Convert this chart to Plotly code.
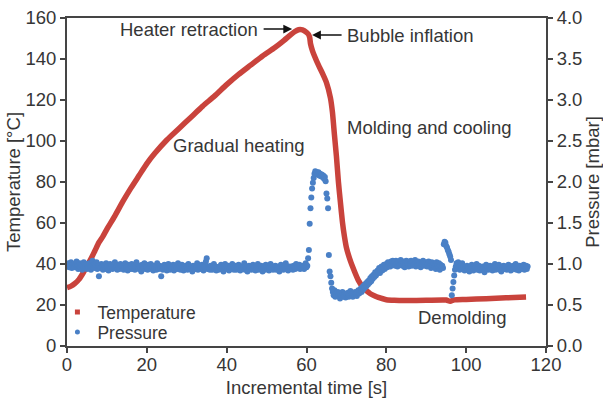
import numpy as np
import plotly.graph_objects as go

# ---------------------------------------------------------------------------
# Process record: film temperature (left axis) and chamber pressure (right axis)
# ---------------------------------------------------------------------------

# Temperature profile, sampled at the points where the curve changes shape
TEMP_TIME_S = [0, 1, 2, 3, 4, 5, 6, 7, 8, 9, 10, 12, 14, 16, 18, 20, 22, 25, 28,
               31, 34, 37, 40, 43, 46, 49, 52, 54, 56, 57, 58, 59, 60, 60.5,
               60.8, 61, 61.5, 62, 63, 64, 65, 66, 66.5, 67, 67.5, 68, 68.5, 69,
               69.5, 70, 71, 72, 73, 74, 75, 76, 77, 78, 80, 82, 85, 90, 95, 96,
               97, 100, 105, 110, 115]
TEMP_C = [28.5, 29.2, 30.5, 32.5, 35.5, 39.0, 42.5, 46.5, 50.5, 53.5, 57.0,
          63.5, 70.5, 77.0, 83.0, 89.0, 94.0, 100.5, 106.0, 111.5, 117.0, 122.0,
          127.5, 132.5, 137.0, 141.5, 145.5, 148.5, 151.8, 153.3, 154.3, 154.2,
          153.0, 152.0, 150.5, 147.5, 144.0, 141.5, 137.0, 133.0, 128.5, 121.0,
          114.0, 103.0, 92.5, 80.0, 70.0, 60.5, 53.5, 48.0, 41.5, 36.5, 32.0,
          29.0, 27.0, 25.5, 24.5, 23.7, 22.6, 22.3, 22.2, 22.3, 22.4, 21.8,
          22.5, 22.7, 23.1, 23.5, 23.9]

# Pressure logger output, one reading every SAMPLE_INTERVAL_S seconds from t = 0
SAMPLE_INTERVAL_S = 0.2
PRESSURE_MBAR = [
    # 0 - 59.8 s : heating, chamber at rest
    0.99, 0.97, 1.01, 0.96, 0.98, 1.02, 0.95, 0.99, 0.97, 1.00,
    0.96, 0.99, 1.03, 0.97, 0.94, 0.98, 1.01, 0.96, 0.99, 0.93,
    0.98, 1.02, 0.95, 0.97, 1.00, 0.94, 0.99, 0.96, 1.01, 0.97,
    0.93, 0.98, 1.04, 0.96, 0.99, 0.95, 0.97, 1.02, 0.94, 0.98,
    0.85, 0.97, 0.95, 1.00, 0.96, 0.93, 0.99, 0.97, 0.94, 1.01,
    0.96, 0.98, 0.92, 0.97, 1.00, 0.95, 0.98, 0.94, 0.99, 0.96,
    1.02, 0.95, 0.97, 0.93, 0.99, 0.96, 0.94, 1.00, 0.97, 0.95,
    0.98, 0.93, 0.96, 1.01, 0.95, 0.97, 0.92, 0.99, 0.96, 0.94,
    0.97, 1.00, 0.94, 0.96, 0.98, 0.93, 0.97, 1.02, 0.95, 0.96,
    0.94, 0.98, 0.96, 0.91, 0.99, 0.97, 0.95, 1.01, 0.94, 0.97,
    0.96, 0.93, 0.99, 0.95, 0.97, 1.00, 0.94, 0.96, 0.92, 0.98,
    0.95, 0.97, 0.93, 1.01, 0.96, 0.94, 0.98, 0.95, 0.85, 0.97,
    0.93, 0.96, 0.99, 0.94, 0.97, 0.92, 0.96, 1.00, 0.95, 0.93,
    0.97, 0.94, 0.96, 0.99, 0.92, 0.95, 0.98, 0.94, 0.96, 1.01,
    0.94, 0.97, 0.93, 0.96, 0.99, 0.95, 0.92, 0.97, 0.95, 0.98,
    0.96, 0.93, 1.00, 0.95, 0.97, 0.94, 0.96, 0.91, 0.98, 0.95,
    0.97, 0.94, 0.96, 1.01, 0.93, 0.95, 0.98, 0.96, 0.94, 0.99,
    0.95, 0.92, 0.97, 0.96, 1.03, 1.07, 0.94, 0.97, 0.95, 0.93,
    0.98, 0.95, 0.93, 0.96, 1.00, 0.94, 0.97, 0.92, 0.96, 0.95,
    0.93, 0.97, 0.95, 0.99, 0.94, 0.96, 0.91, 0.97, 1.00, 0.95,
    0.96, 0.94, 0.98, 0.92, 0.95, 0.97, 0.94, 1.00, 0.96, 0.93,
    0.95, 0.98, 0.93, 0.96, 0.94, 0.99, 0.95, 0.92, 0.97, 0.95,
    0.94, 0.96, 1.01, 0.93, 0.97, 0.95, 0.91, 0.96, 0.98, 0.94,
    0.97, 0.93, 0.95, 0.99, 0.94, 0.96, 0.92, 0.97, 0.95, 1.00,
    0.93, 0.96, 0.94, 0.98, 0.95, 0.91, 0.97, 0.95, 0.93, 0.99,
    0.96, 0.94, 0.97, 0.92, 0.95, 1.00, 0.94, 0.96, 0.93, 0.97,
    0.95, 0.98, 0.93, 0.96, 0.94, 0.97, 0.91, 0.95, 0.99, 0.94,
    0.96, 0.93, 0.97, 0.95, 1.01, 0.94, 0.96, 0.92, 0.97, 0.95,
    0.94, 0.97, 0.95, 0.93, 0.98, 0.96, 0.94, 1.00, 0.95, 0.97,
    0.96, 0.99, 0.94, 0.97, 0.95, 0.98, 0.96, 0.94, 0.97, 1.01,
    # 60 - 65.8 s : bubble inflation
    0.96, 0.98, 1.07, 1.17, 1.49, 1.68, 1.81, 1.92, 1.99, 2.05,
    2.10, 2.13, 2.11, 2.12, 2.09, 2.12, 2.08, 2.10, 2.07, 2.09,
    2.06, 2.08, 2.04, 2.06, 2.01, 1.86, 1.80, 1.68, 1.11, 0.91,
    # 66 - 73.8 s : molding, pressure dip
    0.85, 0.77, 0.70, 0.66, 0.62, 0.68, 0.60, 0.64, 0.61, 0.66,
    0.62, 0.65, 0.58, 0.63, 0.61, 0.66, 0.60, 0.62, 0.64, 0.59,
    0.63, 0.61, 0.65, 0.60, 0.62, 0.67, 0.61, 0.63, 0.60, 0.64,
    0.62, 0.66, 0.63, 0.61, 0.65, 0.68, 0.64, 0.67, 0.70, 0.66,
    # 74 - 81.8 s : recovery
    0.72, 0.69, 0.74, 0.71, 0.76, 0.73, 0.78, 0.75, 0.80, 0.77,
    0.83, 0.79, 0.85, 0.82, 0.87, 0.84, 0.90, 0.86, 0.88, 0.92,
    0.91, 0.95, 0.89, 0.93, 0.97, 0.92, 0.96, 0.99, 0.94, 0.98,
    1.00, 0.96, 1.02, 0.98, 1.01, 0.97, 1.03, 0.99, 1.04, 1.00,
    # 82 - 93.8 s : cooling plateau
    1.02, 0.98, 1.04, 1.00, 0.97, 1.03, 1.01, 0.99, 1.05, 1.00,
    0.98, 1.03, 1.01, 0.96, 1.02, 1.04, 0.99, 1.01, 0.97, 1.03,
    1.00, 1.04, 0.98, 1.02, 0.99, 1.01, 1.05, 0.97, 1.02, 1.00,
    1.03, 0.99, 1.01, 0.96, 1.02, 1.00, 1.04, 0.98, 1.01, 0.99,
    1.02, 0.97, 1.00, 1.03, 0.98, 1.01, 0.95, 1.02, 0.99, 1.01,
    0.97, 1.00, 0.94, 1.02, 0.98, 0.96, 1.01, 0.93, 0.99, 0.97,
    # 94 - 97.8 s : demolding
    0.98, 0.95, 1.24, 1.27, 1.26, 1.22, 1.20, 1.17, 1.15, 1.12,
    1.09, 1.05, 0.62, 0.70, 0.78, 0.86, 0.93, 0.97, 1.01, 0.95,
    # 98 - 115.4 s : part released
    1.02, 0.96, 0.93, 0.98, 0.95, 1.01, 0.94, 0.97, 0.92, 0.96,
    0.95, 0.98, 0.93, 0.96, 0.91, 0.97, 0.94, 0.99, 0.95, 0.92,
    0.97, 0.94, 0.96, 1.00, 0.93, 0.95, 0.98, 0.92, 0.96, 0.94,
    0.93, 0.97, 0.95, 0.90, 0.96, 0.99, 0.94, 0.97, 0.93, 0.96,
    0.98, 0.94, 0.96, 0.92, 0.97, 0.95, 1.00, 0.93, 0.96, 0.94,
    0.95, 0.99, 0.93, 0.96, 0.91, 0.97, 0.95, 0.98, 0.94, 0.96,
    0.97, 0.93, 0.96, 0.99, 0.94, 0.96, 0.92, 0.97, 0.95, 0.98,
    0.94, 0.96, 1.00, 0.93, 0.97, 0.95, 0.92, 0.98, 0.96, 0.94,
    0.97, 0.95, 0.99, 0.93, 0.96, 0.98, 0.94, 0.97,
]

X_TICKS = [0, 20, 40, 60, 80, 100, 120]
Y_TICKS = [0, 20, 40, 60, 80, 100, 120, 140, 160]
Y2_TICKS = [0.0, 0.5, 1.0, 1.5, 2.0, 2.5, 3.0, 3.5, 4.0]

# Process-stage labels: (text, time, temperature, anchor)
STAGE_LABELS = [
    ("Gradual heating", 26.1, 98.0, "left"),
    ("Molding and cooling", 69.6, 106.8, "left"),
    ("Demolding", 87.4, 13.7, "left"),
]
# Event callouts: (text, arrow tip time, tip temperature, tail offset px, anchor)
EVENT_LABELS = [
    ("Heater retraction", 56.4, 154.6, -30, "right"),
    ("Bubble inflation", 61.4, 151.7, 31, "left"),
]

RED = "#c9433c"
BLUE = "#4a80c6"
INK = "#363636"
AXIS = "#454545"
FONT = "Liberation Sans, Arial, sans-serif"
FS = 18.5

pressure_time = np.arange(len(PRESSURE_MBAR)) * SAMPLE_INTERVAL_S

fig = go.Figure()

fig.add_trace(go.Scatter(
    x=TEMP_TIME_S, y=TEMP_C, mode="lines", name="Temperature",
    line=dict(color=RED, width=5.5, shape="spline", smoothing=0.6),
    showlegend=False, yaxis="y",
))
fig.add_trace(go.Scatter(
    x=pressure_time, y=PRESSURE_MBAR, mode="markers", name="Pressure",
    marker=dict(color=BLUE, size=6, line=dict(width=0)),
    showlegend=False, yaxis="y2",
))

# legend keys
fig.add_trace(go.Scatter(
    x=[None], y=[None], mode="markers", name="Temperature",
    marker=dict(color=RED, size=5, symbol="square"), legend="legend",
))
fig.add_trace(go.Scatter(
    x=[None], y=[None], mode="markers", name="Pressure", yaxis="y2",
    marker=dict(color=BLUE, size=5), legend="legend2",
))

annotations = []
for text, t, temp, anchor in STAGE_LABELS:
    annotations.append(dict(
        x=t, y=temp, xref="x", yref="y", text=text, showarrow=False,
        xanchor=anchor, yanchor="middle", font=dict(size=FS, color=INK, family=FONT),
    ))
for text, t, temp, dx, anchor in EVENT_LABELS:
    annotations.append(dict(
        x=t, y=temp, xref="x", yref="y", text="", showarrow=True,
        ax=dx, ay=0, axref="pixel", ayref="pixel",
        arrowhead=2, arrowsize=1.1, arrowwidth=1.6, arrowcolor="#111111",
        standoff=0, startstandoff=0,
    ))
    annotations.append(dict(
        x=t, y=temp, xref="x", yref="y", text=text, showarrow=True,
        ax=dx + (-2 if dx < 0 else 2), ay=0, arrowcolor="rgba(0,0,0,0)",
        xanchor=anchor, yanchor="middle",
        font=dict(size=FS, color=INK, family=FONT),
    ))

axis_common = dict(
    showline=True, linecolor=AXIS, linewidth=2, showgrid=False, zeroline=False,
    ticks="outside", ticklen=5, tickwidth=2, tickcolor=AXIS, automargin=False,
    tickfont=dict(size=FS, color=INK, family=FONT),
    title_font=dict(size=FS, color=INK, family=FONT),
)

legend_common = dict(
    xanchor="left", yanchor="middle", bgcolor="rgba(0,0,0,0)", borderwidth=0,
    font=dict(size=17.5, color=INK, family=FONT), itemwidth=30,
)

fig.update_layout(
    width=603, height=398,
    margin=dict(l=67, r=57, t=18, b=52, autoexpand=False),
    paper_bgcolor="white", plot_bgcolor="white",
    font=dict(family=FONT, size=FS, color=INK),
    xaxis=dict(range=[0, 120], tickvals=X_TICKS, mirror=True, ticklabelstandoff=-4,
               title=dict(text="Incremental time [s]", standoff=8), **axis_common),
    yaxis=dict(range=[0, 160], tickvals=Y_TICKS,
               title=dict(text="Temperature [°C]", standoff=0), **axis_common),
    yaxis2=dict(range=[0, 4], tickvals=Y2_TICKS, tickformat=".1f",
                overlaying="y", side="right",
                title=dict(text="Pressure [mbar]", standoff=6), **axis_common),
    legend=dict(x=-0.02, y=0.103, **legend_common),
    legend2=dict(x=-0.02, y=0.042, **legend_common),
    annotations=annotations,
    showlegend=True,
)

fig.write_html("out.html")
